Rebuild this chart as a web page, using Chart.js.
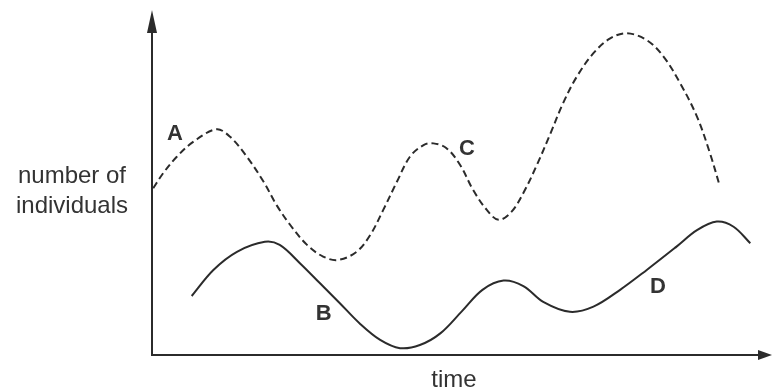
<!DOCTYPE html>
<html>
<head>
<meta charset="utf-8">
<style>
  html, body { margin: 0; padding: 0; background: #ffffff; }
  #wrap { position: relative; width: 772px; height: 391px; }
</style>
<script src="https://cdn.jsdelivr.net/npm/chart.js@4/dist/chart.umd.min.js"></script>
</head>
<body>
<div id="wrap"><canvas id="c" width="772" height="391"></canvas></div>
<script>
// Series A / C (dashed) — time vs. number of individuals (arbitrary units 0-100)
const dashedTime  = [0.2, 1.8, 4.0, 6.7, 10.4, 12.6, 15.3, 18.0, 20.1, 22.3, 25.0, 27.6, 30.0, 33.0, 35.2, 37.3, 39.5, 41.6, 43.8, 45.4, 47.5, 49.7, 51.8, 54.0, 55.9, 58.0, 60.0, 62.1, 64.2, 66.3, 68.5, 71.2, 73.9, 76.6, 79.8, 82.5, 85.2, 87.9, 90.0, 91.6];
const dashedCount = [48.6, 53.0, 57.8, 62.2, 65.8, 63.6, 57.8, 50.5, 43.7, 37.9, 32.1, 28.7, 27.7, 30.1, 35.0, 42.3, 50.5, 57.8, 61.2, 61.7, 60.3, 55.4, 48.1, 42.3, 39.4, 41.8, 47.6, 55.5, 64.3, 73.4, 81.1, 88.0, 92.3, 93.8, 91.8, 87.0, 79.2, 69.5, 58.8, 49.1];
// Series B / D (solid)
const solidTime  = [6.4, 9.9, 13.7, 18.2, 20.6, 23.9, 27.1, 30.3, 33.5, 36.8, 40.0, 43.2, 46.5, 50.0, 53.3, 56.7, 59.9, 63.1, 67.4, 71.2, 75.5, 79.8, 84.6, 87.9, 91.1, 93.8, 96.5];
const solidCount = [17.2, 24.8, 30.1, 33.0, 32.1, 26.7, 20.9, 15.1, 9.2, 4.4, 2.0, 2.9, 6.3, 12.8, 19.0, 21.7, 20.1, 15.5, 12.6, 14.1, 19.0, 24.8, 31.6, 36.4, 38.9, 37.4, 32.6];
// Curve labels
const curveLabels = ['A', 'B', 'C', 'D'];
const labelTime   = [3.7, 27.7, 50.8, 81.6];
const labelCount  = [62.7, 10.2, 58.3, 18.1];
// Axis titles
const yTitle = ['number of', 'individuals'];
const xTitle = 'time';

function pts(xs, ys) { return xs.map((x, i) => ({ x: x, y: ys[i] })); }

const decor = {
  id: 'decor',
  afterDatasetsDraw(chart) {
    const ctx = chart.ctx;
    const a = chart.chartArea;
    const xs = chart.scales.x, ys = chart.scales.y;
    ctx.save();
    ctx.strokeStyle = '#2b2b2b';
    ctx.fillStyle = '#2b2b2b';
    ctx.lineWidth = 2;
    ctx.beginPath();
    ctx.moveTo(a.left, a.bottom);
    ctx.lineTo(a.left, a.top + 20);
    ctx.moveTo(a.left - 1, a.bottom);
    ctx.lineTo(a.right - 12, a.bottom);
    ctx.stroke();
    ctx.beginPath();
    ctx.moveTo(a.left, a.top - 2);
    ctx.lineTo(a.left - 5, a.top + 21);
    ctx.lineTo(a.left + 5, a.top + 21);
    ctx.closePath();
    ctx.fill();
    ctx.beginPath();
    ctx.moveTo(a.right, a.bottom);
    ctx.lineTo(a.right - 14, a.bottom - 5);
    ctx.lineTo(a.right - 14, a.bottom + 5);
    ctx.closePath();
    ctx.fill();
    ctx.fillStyle = '#333333';
    ctx.font = 'bold 22px "Liberation Sans", Arial, sans-serif';
    ctx.textAlign = 'center';
    ctx.textBaseline = 'alphabetic';
    curveLabels.forEach((t, i) => {
      ctx.fillText(t, xs.getPixelForValue(labelTime[i]), ys.getPixelForValue(labelCount[i]));
    });
    ctx.font = '24px "Liberation Sans", Arial, sans-serif';
    ctx.fillText(yTitle[0], 72, 183);
    ctx.fillText(yTitle[1], 72, 213);
    ctx.fillText(xTitle, 454, 387);
    ctx.restore();
  }
};

new Chart(document.getElementById('c'), {
  type: 'scatter',
  data: {
    datasets: [
      {
        data: pts(dashedTime, dashedCount),
        showLine: true,
        borderColor: '#2b2b2b',
        borderWidth: 2,
        borderDash: [7, 4],
        pointRadius: 0,
        tension: 0.35,
        fill: false,
        clip: false
      },
      {
        data: pts(solidTime, solidCount),
        showLine: true,
        borderColor: '#2b2b2b',
        borderWidth: 2,
        pointRadius: 0,
        tension: 0.35,
        fill: false,
        clip: false
      }
    ]
  },
  options: {
    responsive: false,
    animation: false,
    layout: { padding: { left: 152, right: 0, top: 12, bottom: 36 } },
    plugins: { legend: { display: false }, tooltip: { enabled: false } },
    scales: {
      x: { type: 'linear', min: 0, max: 100, display: false },
      y: { type: 'linear', min: 0, max: 100, display: false }
    }
  },
  plugins: [decor]
});
</script>
</body>
</html>
